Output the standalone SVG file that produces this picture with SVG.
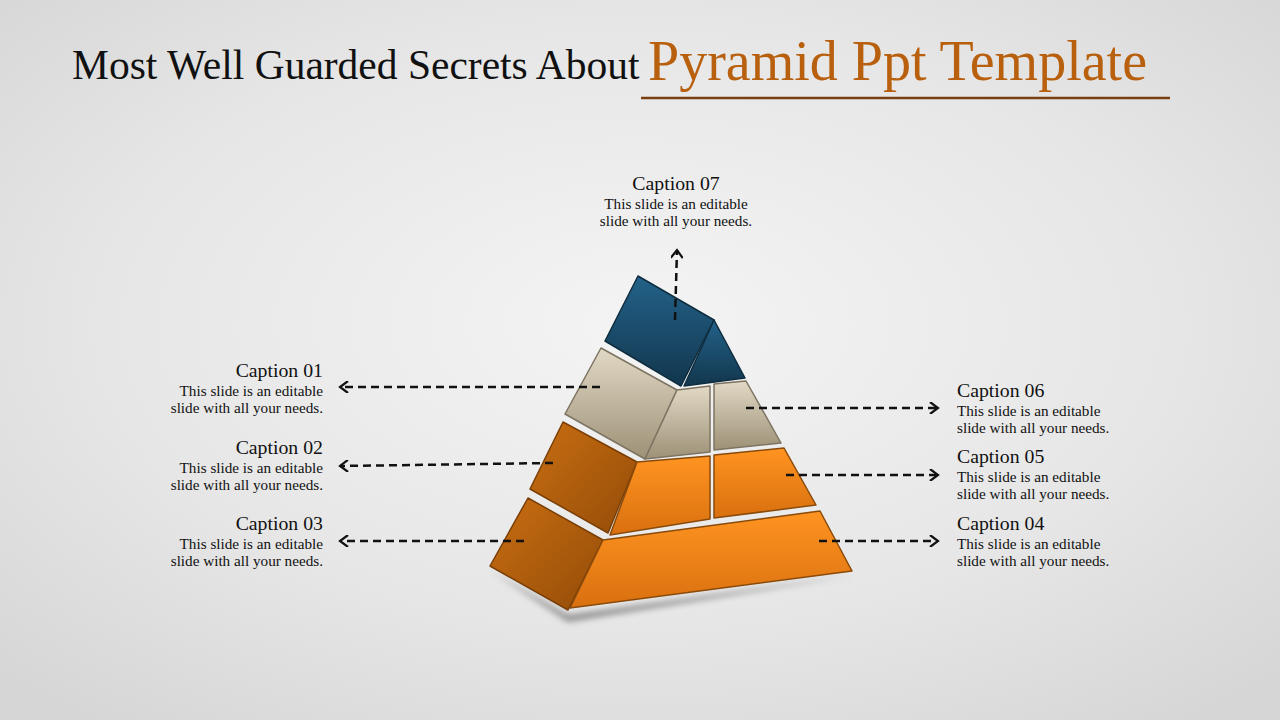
<svg xmlns="http://www.w3.org/2000/svg" width="1280" height="720" viewBox="0 0 1280 720">
<defs>
<radialGradient id="bg" cx="0.5" cy="0.45" r="0.7"><stop offset="0" stop-color="#f4f4f4"/><stop offset="0.6" stop-color="#e6e6e6"/><stop offset="1" stop-color="#d6d6d6"/></radialGradient>
<linearGradient id="blue" x1="0" y1="0" x2="0" y2="1"><stop offset="0" stop-color="#236289"/><stop offset="1" stop-color="#12364d"/></linearGradient>
<linearGradient id="beige" x1="0" y1="0" x2="0" y2="1"><stop offset="0" stop-color="#e2d9c6"/><stop offset="1" stop-color="#9d9176"/></linearGradient>
<linearGradient id="orL" x1="0" y1="0" x2="1" y2="1"><stop offset="0" stop-color="#c96e12"/><stop offset="1" stop-color="#944c08"/></linearGradient>
<linearGradient id="orF" x1="0" y1="0" x2="0" y2="1"><stop offset="0" stop-color="#ff9421"/><stop offset="1" stop-color="#d9700f"/></linearGradient>
<marker id="ah" markerWidth="12" markerHeight="12" refX="10" refY="6" orient="auto" markerUnits="userSpaceOnUse"><path d="M2,0 L10,6 L2,12" fill="none" stroke="#111" stroke-width="2.2"/></marker>
<filter id="sh" x="-10%" y="-10%" width="120%" height="130%"><feGaussianBlur stdDeviation="3"/></filter>
</defs>
<style>
.t{font-family:"Liberation Serif",serif;fill:#111}
.h{font-size:19.8px}
.b{font-size:15.2px}
.c{fill:none;stroke:#111;stroke-width:2.5;stroke-dasharray:8,5;marker-end:url(#ah)}
.e{stroke-width:1.5;stroke-linejoin:round}
.bl{fill:url(#blue);stroke:#0e2d40}
.be{fill:url(#beige);stroke:#7d7462}
.ol{fill:url(#orL);stroke:#7a3f06}
.of{fill:url(#orF);stroke:#8a4a0a}
</style>
<rect width="1280" height="720" fill="url(#bg)"/>
<text x="72" y="79" class="t" font-size="41.5">Most Well Guarded Secrets About</text>
<text x="648" y="80" font-family="Liberation Serif,serif" font-size="56" fill="#b8600e">Pyramid Ppt Template</text>
<line x1="641" y1="98" x2="1170" y2="98" stroke="#7a3e10" stroke-width="2.5"/>
<polygon points="490,570 568,615 855,575 568,622" fill="#555" opacity="0.6" filter="url(#sh)"/>
<g id="tier4">
<polygon class="e ol" points="528,498 603,540 568,610 490,566"/>
<polygon class="e of" points="603,540 820,511 852,571 570,608"/>
</g>
<g id="tier3">
<polygon class="e ol" points="563,422 637,462 608,533 530,489"/>
<polygon class="e of" points="637,462 710,456 710,519 610,535"/>
<polygon class="e of" points="714,455 784,448 816,505 714,518"/>
</g>
<g id="tier2">
<polygon class="e be" points="601,348 677,390 645,459 565,414"/>
<polygon class="e be" points="677,390 710,386 710,452 645,459"/>
<polygon class="e be" points="714,384 746,381 781,443 714,450"/>
</g>
<g id="tier1">
<polygon class="e bl" points="638,276 714,320 681,386 605,341"/>
<polygon class="e bl" points="714,320 745,378 684,386"/>
</g>
<g id="connectors">
<line class="c" x1="600" y1="387" x2="340" y2="387"/>
<line class="c" x1="553" y1="463" x2="340" y2="466"/>
<line class="c" x1="524" y1="541" x2="340" y2="541"/>
<line class="c" x1="746" y1="408" x2="938" y2="408"/>
<line class="c" x1="786" y1="475" x2="938" y2="475"/>
<line class="c" x1="819" y1="541" x2="938" y2="541"/>
<line class="c" x1="675" y1="320" x2="677" y2="250"/>
</g>
<g id="cap07" class="t" text-anchor="middle"><text x="676" y="190" class="h">Caption 07</text><text x="676" y="209" class="b">This slide is an editable</text><text x="676" y="226" class="b">slide with all your needs.</text></g>
<g id="cap01" class="t" text-anchor="end"><text x="323" y="377" class="h">Caption 01</text><text x="323" y="396" class="b">This slide is an editable</text><text x="323" y="413" class="b">slide with all your needs.</text></g>
<g id="cap02" class="t" text-anchor="end"><text x="323" y="454" class="h">Caption 02</text><text x="323" y="473" class="b">This slide is an editable</text><text x="323" y="490" class="b">slide with all your needs.</text></g>
<g id="cap03" class="t" text-anchor="end"><text x="323" y="530" class="h">Caption 03</text><text x="323" y="549" class="b">This slide is an editable</text><text x="323" y="566" class="b">slide with all your needs.</text></g>
<g id="cap06" class="t"><text x="957" y="397" class="h">Caption 06</text><text x="957" y="416" class="b">This slide is an editable</text><text x="957" y="433" class="b">slide with all your needs.</text></g>
<g id="cap05" class="t"><text x="957" y="463" class="h">Caption 05</text><text x="957" y="482" class="b">This slide is an editable</text><text x="957" y="499" class="b">slide with all your needs.</text></g>
<g id="cap04" class="t"><text x="957" y="530" class="h">Caption 04</text><text x="957" y="549" class="b">This slide is an editable</text><text x="957" y="566" class="b">slide with all your needs.</text></g>
</svg>
